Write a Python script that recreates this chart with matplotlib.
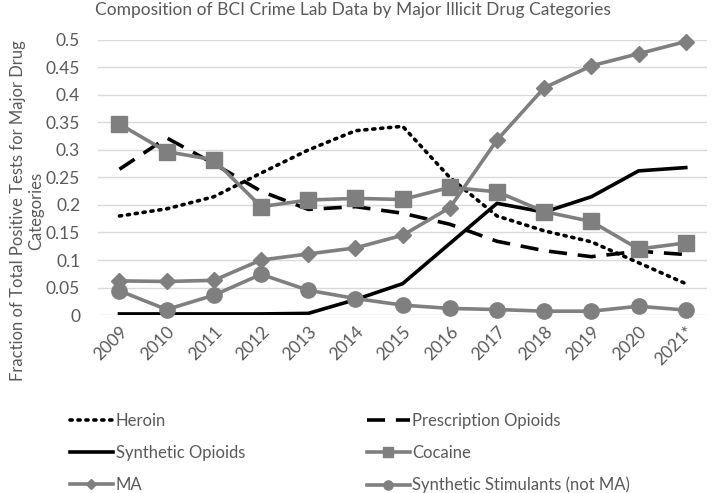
import numpy as np
import matplotlib.pyplot as plt

plt.rcParams['font.family'] = ['Lato', 'DejaVu Sans']

years = ['2009', '2010', '2011', '2012', '2013', '2014', '2015',
         '2016', '2017', '2018', '2019', '2020', '2021*']

heroin = [0.180, 0.193, 0.215, 0.258, 0.300, 0.335, 0.343,
          0.250, 0.180, 0.153, 0.133, 0.095, 0.057]
rx_opioids = [0.265, 0.322, 0.275, 0.225, 0.192, 0.197, 0.185,
              0.165, 0.134, 0.117, 0.106, 0.116, 0.110]
syn_opioids = [0.002, 0.002, 0.002, 0.002, 0.003, 0.028, 0.057,
               0.130, 0.203, 0.187, 0.215, 0.262, 0.268]
cocaine = [0.347, 0.297, 0.282, 0.197, 0.209, 0.212, 0.210,
           0.232, 0.224, 0.188, 0.170, 0.120, 0.131]
ma = [0.062, 0.061, 0.063, 0.100, 0.111, 0.122, 0.145,
      0.195, 0.318, 0.413, 0.453, 0.475, 0.497]
syn_stim = [0.044, 0.010, 0.036, 0.074, 0.045, 0.030, 0.018,
            0.012, 0.010, 0.007, 0.007, 0.016, 0.009]

txt = '#595959'
grey = '#7f7f7f'

fig = plt.figure(figsize=(7.12, 4.93), dpi=100)
ax = fig.add_axes([0.138, 0.361, 0.855, 0.558])

x = np.arange(len(years))
lw = 2.6
h1, = ax.plot(x, heroin, color='black', lw=lw, linestyle=(0, (0.6, 1.6)),
              dash_capstyle='round', label='Heroin')
h2, = ax.plot(x, rx_opioids, color='black', lw=lw, linestyle=(0, (5, 3)),
              label='Prescription Opioids')
h3, = ax.plot(x, syn_opioids, color='black', lw=lw, label='Synthetic Opioids')
h4, = ax.plot(x, cocaine, color=grey, lw=lw, marker='s', markersize=12,
              label='Cocaine', clip_on=False)
h5, = ax.plot(x, ma, color=grey, lw=lw, marker='D', markersize=8,
              label='MA', clip_on=False)
h6, = ax.plot(x, syn_stim, color=grey, lw=lw, marker='o', markersize=11,
              label='Synthetic Stimulants (not MA)', clip_on=False)

ax.set_xlim(-0.45, len(years) - 0.55)
ax.set_ylim(0, 0.5)
ax.set_yticks(np.arange(0, 0.51, 0.05))
ax.set_yticklabels(['0', '0.05', '0.1', '0.15', '0.2', '0.25', '0.3',
                    '0.35', '0.4', '0.45', '0.5'])
ax.set_xticks(x)
ax.set_xticklabels(years, rotation=45, ha='right', rotation_mode='anchor')
ax.tick_params(axis='both', length=0, colors=txt, labelsize=12.5)
ax.tick_params(axis='y', pad=13)
ax.tick_params(axis='x', pad=6)
ax.grid(axis='y', color='#d9d9d9', lw=1)
ax.set_axisbelow(True)
for s in ax.spines.values():
    s.set_visible(False)

ax.set_ylabel('Fraction of Total Positive Tests for Major Drug\nCategories',
              color=txt, fontsize=12, linespacing=1.2)
ax.yaxis.set_label_coords(-0.088, 0.38)

fig.suptitle('Composition of BCI Crime Lab Data by Major Illicit Drug Categories',
             color=txt, fontsize=12.5, x=0.495, y=0.995)

# excel fills legend row by row, matplotlib column by column
fig.legend([h1, h3, h5, h2, h4, h6],
           [h.get_label() for h in [h1, h3, h5, h2, h4, h6]],
           loc='upper left', bbox_to_anchor=(0.098, 0.162), ncol=2, frameon=False,
           fontsize=12, labelcolor=txt, handlelength=2.6, handletextpad=0.15,
           columnspacing=7.3, labelspacing=0.95, borderpad=0, borderaxespad=0,
           markerscale=0.6)

fig.savefig('out.png', dpi=100)
